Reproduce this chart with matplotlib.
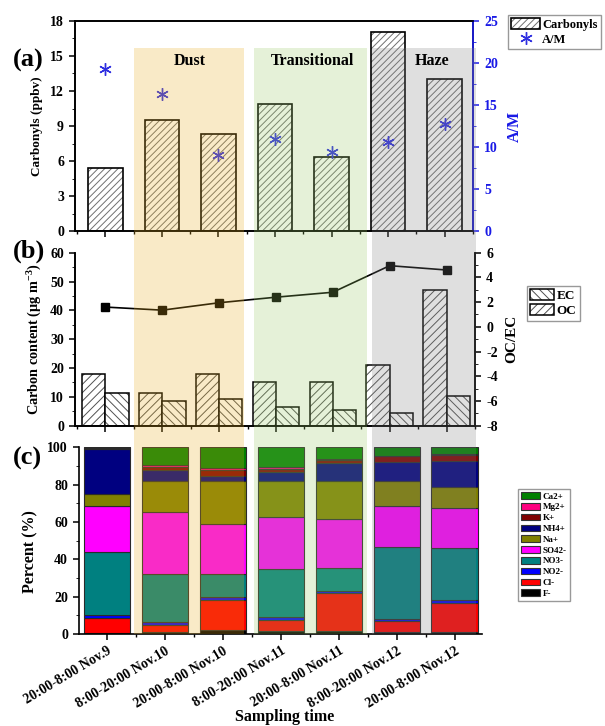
import matplotlib

matplotlib.use("Agg")
import matplotlib.pyplot as plt
import numpy as np
from matplotlib.legend_handler import HandlerTuple
from matplotlib.lines import Line2D
from matplotlib.patches import Patch, Rectangle
from matplotlib.ticker import MultipleLocator

SAMPLES = [
    "20:00-8:00 Nov.9",
    "8:00-20:00 Nov.10",
    "20:00-8:00 Nov.10",
    "8:00-20:00 Nov.11",
    "20:00-8:00 Nov.11",
    "8:00-20:00 Nov.12",
    "20:00-8:00 Nov.12",
]

# (a) carbonyls and A/M ratio
CARBONYLS = [5.45, 9.55, 8.3, 10.9, 6.4, 17.0, 13.05]
AM_RATIO = [19.3, 16.3, 9.1, 11.0, 9.4, 10.6, 12.7]

# (b) carbon content
OC = [17.9, 11.3, 17.9, 15.1, 15.1, 20.9, 47.2]
EC = [11.3, 8.4, 9.35, 6.35, 5.4, 4.4, 10.4]
OC_EC = [1.6, 1.35, 1.95, 2.4, 2.8, 4.95, 4.6]

# (c) ion fractions (%), bottom to top
F_ION = [0.6, 1.0, 2.0, 1.8, 1.4, 1.2, 1.2]
CL_ION = [7.9, 3.8, 16.3, 5.7, 20.4, 5.9, 15.3]
NO2_ION = [1.6, 1.4, 1.4, 1.4, 1.3, 1.2, 1.6]
NO3_ION = [33.9, 25.9, 12.4, 25.7, 12.4, 38.4, 27.7]
SO4_ION = [24.7, 33.1, 26.9, 27.9, 26.1, 21.7, 21.5]
NA_ION = [6.3, 16.8, 22.7, 19.2, 20.4, 13.8, 11.2]
NH4_ION = [24.0, 6.0, 3.0, 5.1, 9.5, 9.8, 14.2]
K_ION = [0.6, 1.5, 3.2, 1.6, 1.8, 3.2, 3.3]
MG_ION = [0.4, 0.8, 0.9, 0.9, 0.3, 0.3, 0.5]
CA_ION = [0.0, 9.7, 11.2, 10.7, 6.4, 4.5, 3.5]

ION_NAMES = ["F-", "Cl-", "NO2-", "NO3-", "SO42-", "Na+", "NH4+", "K+", "Mg2+", "Ca2+"]
ION_VALUES = [F_ION, CL_ION, NO2_ION, NO3_ION, SO4_ION, NA_ION, NH4_ION, K_ION, MG_ION, CA_ION]
ION_COLORS = ["#000000", "#ff0000", "#0000ff", "#008080", "#ff00ff",
              "#808000", "#000080", "#800000", "#ff0080", "#008000"]

# pollution periods: name, start, end (sample index units), label x, colour
PERIODS = [
    ("Dust", 0.5, 2.46, 1.5, "#ebaf23"),
    ("Transitional", 2.63, 4.62, 3.66, "#9bcb67"),
    ("Haze", 4.71, 6.56, 5.78, "#838383"),
]

plt.rcParams["font.family"] = ["Liberation Serif", "DejaVu Serif"]
plt.rcParams["font.weight"] = "bold"
plt.rcParams["axes.labelweight"] = "bold"
plt.rcParams["axes.linewidth"] = 1.2
plt.rcParams["axes.unicode_minus"] = False
plt.rcParams["hatch.linewidth"] = 0.7
plt.rcParams["mathtext.fontset"] = "custom"
plt.rcParams["mathtext.rm"] = "Liberation Serif:bold"
plt.rcParams["mathtext.default"] = "rm"

W, H = 605, 726
fig = plt.figure(figsize=(W / 100, H / 100), dpi=100)


def box(left, top, right, bottom):
    return [left / W, 1 - bottom / H, (right - left) / W, (bottom - top) / H]


ax_a = fig.add_axes(box(75, 20.7, 473, 231.5))
ax_b = fig.add_axes(box(75, 252.7, 475, 425.7))
ax_c = fig.add_axes(box(79, 447.3, 481.7, 634))

x = np.arange(len(SAMPLES))
tick_kw = dict(labelsize=10, width=1.1)


def style_x(ax):
    ax.set_xticks(x)
    ax.xaxis.set_minor_locator(MultipleLocator(0.5))
    ax.tick_params(axis="x", which="major", direction="out", length=4.5, **tick_kw)
    ax.tick_params(axis="x", which="minor", direction="out", length=2.5, width=1.0)


# ---- (a)
ax_a.bar(x, CARBONYLS, 0.61, color="white", edgecolor="#707070", hatch="/////", linewidth=0)
ax_a.bar(x, CARBONYLS, 0.61, fill=False, edgecolor="black", linewidth=1.2)
ax_a.set_xlim(-0.535, 6.5)
ax_a.set_ylim(0, 18)
ax_a.yaxis.set_major_locator(MultipleLocator(3))
ax_a.yaxis.set_minor_locator(MultipleLocator(1.5))
style_x(ax_a)
ax_a.tick_params(axis="x", labelbottom=False)
ax_a.tick_params(axis="y", which="major", direction="out", length=4.5, **tick_kw)
ax_a.tick_params(axis="y", which="minor", direction="out", length=2.5)
ax_a.set_ylabel("Carbonyls (ppbv)", fontsize=9.5)
ax_a.yaxis.set_label_coords(-0.08, 0.5)

ax_a2 = ax_a.twinx()
ax_a2.plot(x, AM_RATIO, linestyle="none", marker=(6, 2, 0), markersize=9,
           markeredgewidth=1.0, color="#2f2fe0")
ax_a2.set_ylim(0, 25)
ax_a2.yaxis.set_major_locator(MultipleLocator(5))
ax_a2.yaxis.set_minor_locator(MultipleLocator(2.5))
ax_a2.tick_params(axis="y", which="major", direction="out", length=4.5, colors="#1a1ae6", **tick_kw)
ax_a2.tick_params(axis="y", which="minor", direction="out", length=2.5, colors="#1a1ae6")
ax_a2.spines["right"].set_color("#1a1ae6")
ax_a2.set_ylabel("A/M", fontsize=11.5, color="#1a1ae6")
ax_a2.yaxis.set_label_coords(1.085, 0.5)
# top axis ticks point inwards
ax_a2.set_xticks(x)
ax_a2.xaxis.set_minor_locator(MultipleLocator(0.5))
ax_a2.tick_params(axis="x", which="major", top=True, bottom=False, labeltop=False,
                  labelbottom=False, direction="in", length=4.5, width=1.1)
ax_a2.tick_params(axis="x", which="minor", top=True, bottom=False, direction="in", length=2.5)

h_carb = (Patch(facecolor="white", edgecolor="#707070", hatch="/////", linewidth=0),
          Patch(fill=False, edgecolor="black", linewidth=1.2))
h_am = Line2D([], [], linestyle="none", marker=(6, 2, 0), markersize=9,
              markeredgewidth=1.0, color="#2f2fe0")
leg_a = fig.legend([h_carb, h_am], ["Carbonyls", "A/M"],
                   handler_map={tuple: HandlerTuple(ndivide=1)},
                   loc="upper left", bbox_to_anchor=(508 / W, 1 - 15 / H),
                   fontsize=9, frameon=True, fancybox=False, edgecolor="#808080",
                   handlelength=2.3, handleheight=0.9, borderpad=0.25, labelspacing=0.2,
                   handletextpad=0.2, borderaxespad=0)
leg_a.get_frame().set_linewidth(1.0)

# ---- (b)
bw = 0.41
ax_b.bar(x - bw / 2, OC, bw, color="white", edgecolor="#505050", hatch="////", linewidth=0)
ax_b.bar(x - bw / 2, OC, bw, fill=False, edgecolor="black", linewidth=1.1)
ax_b.bar(x + bw / 2, EC, bw, color="white", edgecolor="#505050", hatch="\\\\\\\\", linewidth=0)
ax_b.bar(x + bw / 2, EC, bw, fill=False, edgecolor="black", linewidth=1.1)
ax_b.set_xlim(-0.535, 6.5)
ax_b.set_ylim(0, 60)
ax_b.yaxis.set_major_locator(MultipleLocator(10))
ax_b.yaxis.set_minor_locator(MultipleLocator(5))
style_x(ax_b)
ax_b.tick_params(axis="x", labelbottom=False)
ax_b.tick_params(axis="y", which="major", direction="out", length=4.5, **tick_kw)
ax_b.tick_params(axis="y", which="minor", direction="out", length=2.5)
ax_b.spines["top"].set_visible(False)
ax_b.set_ylabel("Carbon content (μg m$^{-3}$)", fontsize=10.3)
ax_b.yaxis.set_label_coords(-0.078, 0.5)

ax_b2 = ax_b.twinx()
ax_b2.plot(x, OC_EC, color="black", linewidth=1.2, marker="s", markersize=5.5)
ax_b2.set_ylim(-8, 6)
ax_b2.yaxis.set_major_locator(MultipleLocator(2))
ax_b2.yaxis.set_minor_locator(MultipleLocator(1))
ax_b2.tick_params(axis="y", which="major", direction="out", length=4.5, **tick_kw)
ax_b2.tick_params(axis="y", which="minor", direction="out", length=2.5)
ax_b2.spines["top"].set_visible(False)
ax_b2.set_ylabel("OC/EC", fontsize=11)
ax_b2.yaxis.set_label_coords(1.075, 0.5)

h_ec = (Patch(facecolor="white", edgecolor="#505050", hatch="\\\\\\\\", linewidth=0),
        Patch(fill=False, edgecolor="black", linewidth=1.1))
h_oc = (Patch(facecolor="white", edgecolor="#505050", hatch="////", linewidth=0),
        Patch(fill=False, edgecolor="black", linewidth=1.1))
leg_b = fig.legend([h_ec, h_oc], ["EC", "OC"],
                   handler_map={tuple: HandlerTuple(ndivide=1)},
                   loc="upper left", bbox_to_anchor=(527 / W, 1 - 286 / H),
                   fontsize=9.5, frameon=True, fancybox=False, edgecolor="#808080",
                   handlelength=1.8, handleheight=0.9, borderpad=0.25, labelspacing=0.15,
                   handletextpad=0.2, borderaxespad=0)
leg_b.get_frame().set_linewidth(1.0)

# ---- (c)
bottom = np.zeros(len(SAMPLES))
for name, vals, col in zip(ION_NAMES, ION_VALUES, ION_COLORS):
    ax_c.bar(x, vals, 0.80, bottom=bottom, color=col, edgecolor="#2a2a2a",
             linewidth=0.8, label=name)
    bottom += np.array(vals)
ax_c.set_xlim(-0.487, 6.468)
ax_c.set_ylim(0, 100)
ax_c.yaxis.set_major_locator(MultipleLocator(20))
ax_c.yaxis.set_minor_locator(MultipleLocator(10))
style_x(ax_c)
ax_c.set_xticklabels(SAMPLES, rotation=31, ha="right", rotation_mode="anchor", fontsize=10)
ax_c.tick_params(axis="x", which="major", pad=3)
ax_c.tick_params(axis="y", which="major", direction="out", length=4.5, **tick_kw)
ax_c.tick_params(axis="y", which="minor", direction="out", length=2.5)
ax_c.spines["top"].set_visible(False)
ax_c.spines["right"].set_visible(False)
ax_c.set_ylabel("Percent (%)", fontsize=11.5)
ax_c.yaxis.set_label_coords(-0.1, 0.44)
ax_c.set_xlabel("Sampling time", fontsize=11.5)
ax_c.xaxis.set_label_coords(0.51, -0.4)

leg_handles = [Patch(facecolor=c, edgecolor="#333333", linewidth=0.8) for c in ION_COLORS][::-1]
leg_c = fig.legend(leg_handles, ION_NAMES[::-1], loc="upper left",
                   bbox_to_anchor=(517.7 / W, 1 - 489 / H), fontsize=6.5,
                   frameon=True, fancybox=False, edgecolor="#808080",
                   handlelength=2.1, handleheight=0.75, borderpad=0.35,
                   labelspacing=0.26, handletextpad=0.3, borderaxespad=0)
leg_c.get_frame().set_linewidth(1.0)

# ---- shaded periods running through all three panels
inv = fig.transFigure.inverted()
y_top = inv.transform(ax_a.transData.transform((0, 15.7)))[1]
y_bot = inv.transform(ax_c.transData.transform((0, 0)))[1]
for name, start, end, lx, col in PERIODS:
    x0 = inv.transform(ax_a.transData.transform((start, 0)))[0]
    x1 = inv.transform(ax_a.transData.transform((end, 0)))[0]
    fig.patches.append(Rectangle((x0, y_bot), x1 - x0, y_top - y_bot, transform=fig.transFigure,
                                 facecolor=col, edgecolor="none", alpha=0.25, zorder=5))
    fig.text(lx, 14.6, name, transform=ax_a.transData, ha="center", va="center",
             fontsize=11.5, fontweight="bold", zorder=6)

for label, ypx in [("(a)", 60), ("(b)", 251), ("(c)", 458)]:
    fig.text(13 / W, 1 - ypx / H, label, ha="left", va="center", fontsize=19, fontweight="bold")

fig.savefig("out.png", dpi=100)
